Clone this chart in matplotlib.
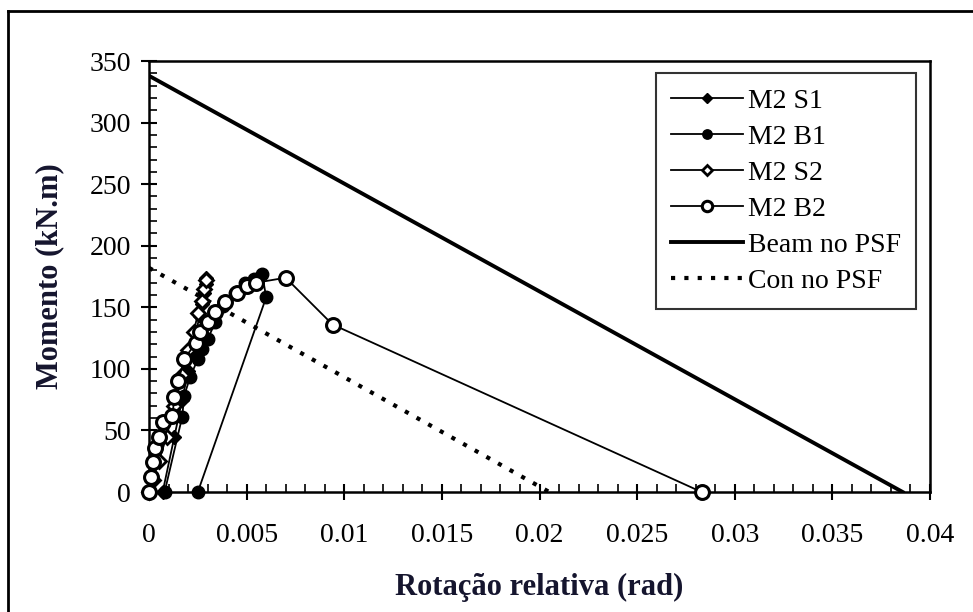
import numpy as np
import matplotlib.pyplot as plt
from matplotlib.lines import Line2D
from matplotlib.ticker import MultipleLocator, FuncFormatter

# data
s1_rot = [0.0007, 0.0013, 0.0017, 0.0020, 0.0022, 0.0024, 0.0026, 0.0027, 0.0028, 0.0029, 0.0029]
s1_mom = [0, 45, 75, 98, 115, 130, 143, 153, 162, 169, 174]

b1_rot = [0.0008, 0.0017, 0.0018, 0.0021, 0.0025, 0.0027, 0.0030, 0.0034, 0.0038, 0.0044, 0.0049, 0.0054, 0.0058, 0.0060, 0.0025]
b1_mom = [0, 61, 78, 93, 108, 116, 124, 138, 151, 162, 170, 173, 177, 158, 0]

s2_rot = [0.0, 0.0002, 0.0005, 0.0009, 0.0013, 0.0017, 0.0020, 0.0023, 0.0025, 0.0027, 0.0028, 0.0029]
s2_mom = [0, 10, 25, 45, 70, 95, 115, 130, 145, 155, 165, 172]

b2_rot = [0.0, 0.0001, 0.0002, 0.0003, 0.0005, 0.0007, 0.0012, 0.0013, 0.0015, 0.0018, 0.0024,
          0.0026, 0.0030, 0.0034, 0.0039, 0.0045, 0.0050, 0.0055, 0.0070, 0.0094, 0.0283]
b2_mom = [0, 12, 24, 36, 45, 57, 62, 77, 90, 108, 121, 130, 138, 146, 154, 162, 167, 170, 174, 136, 0]

beam_rot = [0.0, 0.0386]
beam_mom = [338, 0]

con_rot = [0.0, 0.0205]
con_mom = [182, 0]

plt.rcParams['font.family'] = ['Liberation Serif', 'DejaVu Serif']

fig = plt.figure(figsize=(9.73, 6.12), dpi=100)
ax = fig.add_axes([149 / 973, 1 - 492 / 612, (930 - 149) / 973, (492 - 61) / 612])

# outer frame of the original figure (top and left edges visible)
fig.add_artist(Line2D([8 / 973, 8 / 973], [0, 1 - 11 / 612], transform=fig.transFigure, color='k', lw=2))
fig.add_artist(Line2D([8 / 973, 1], [1 - 11 / 612, 1 - 11 / 612], transform=fig.transFigure, color='k', lw=2))

ax.plot(beam_rot, beam_mom, color='k', lw=2.8, label='Beam no PSF', zorder=2)
ax.plot(con_rot, con_mom, color='k', lw=3, linestyle=(0, (1, 2.2)), label='Con no PSF', zorder=2)

ax.plot(s1_rot, s1_mom, color='k', lw=1.3, marker='D', ms=7, mfc='k', mec='k', label='M2 S1', zorder=4, clip_on=False)
ax.plot(b1_rot, b1_mom, color='k', lw=1.3, marker='o', ms=9, mfc='k', mec='k', label='M2 B1', zorder=4, clip_on=False)
ax.plot(s2_rot, s2_mom, color='k', lw=1.3, marker='D', ms=7, mfc='white', mec='k', mew=2, label='M2 S2', zorder=5, clip_on=False)
ax.plot(b2_rot, b2_mom, color='k', lw=1.3, marker='o', ms=10, mfc='white', mec='k', mew=2.2, label='M2 B2', zorder=5, clip_on=False)

ax.set_xlim(0, 0.04)
ax.set_ylim(0, 350)
ax.xaxis.set_major_locator(MultipleLocator(0.005))
ax.xaxis.set_minor_locator(MultipleLocator(0.001))
ax.yaxis.set_major_locator(MultipleLocator(50))
ax.yaxis.set_minor_locator(MultipleLocator(10))
ax.xaxis.set_major_formatter(FuncFormatter(lambda v, p: '0' if v == 0 else ('%g' % round(v, 4))))

ax.tick_params(which='major', direction='inout', length=12, width=1.5, labelsize=20, pad=7)
ax.tick_params(which='minor', direction='in', length=6, width=1.2)
ax.tick_params(axis='x', which='major', pad=16)
for sp in ax.spines.values():
    sp.set_linewidth(1.8)

ax.set_xlabel('Rotação relativa (rad)', fontsize=22, fontweight='bold', color='#15152e', labelpad=18)
ax.set_ylabel('Momento (kN.m)', fontsize=22, fontweight='bold', color='#15152e', labelpad=18)

handles, labels = ax.get_legend_handles_labels()
order = [2, 3, 4, 5, 0, 1]
leg = ax.legend([handles[i] for i in order], [labels[i] for i in order],
                loc='upper right', bbox_to_anchor=(0.982, 0.972), fontsize=20,
                frameon=True, fancybox=False, edgecolor='k', handlelength=2.6,
                handletextpad=0.15, labelspacing=0.38, borderpad=0.55, borderaxespad=0.0,
                markerscale=0.75)
leg.get_frame().set_linewidth(1.5)

fig.savefig('out.png', dpi=100)
